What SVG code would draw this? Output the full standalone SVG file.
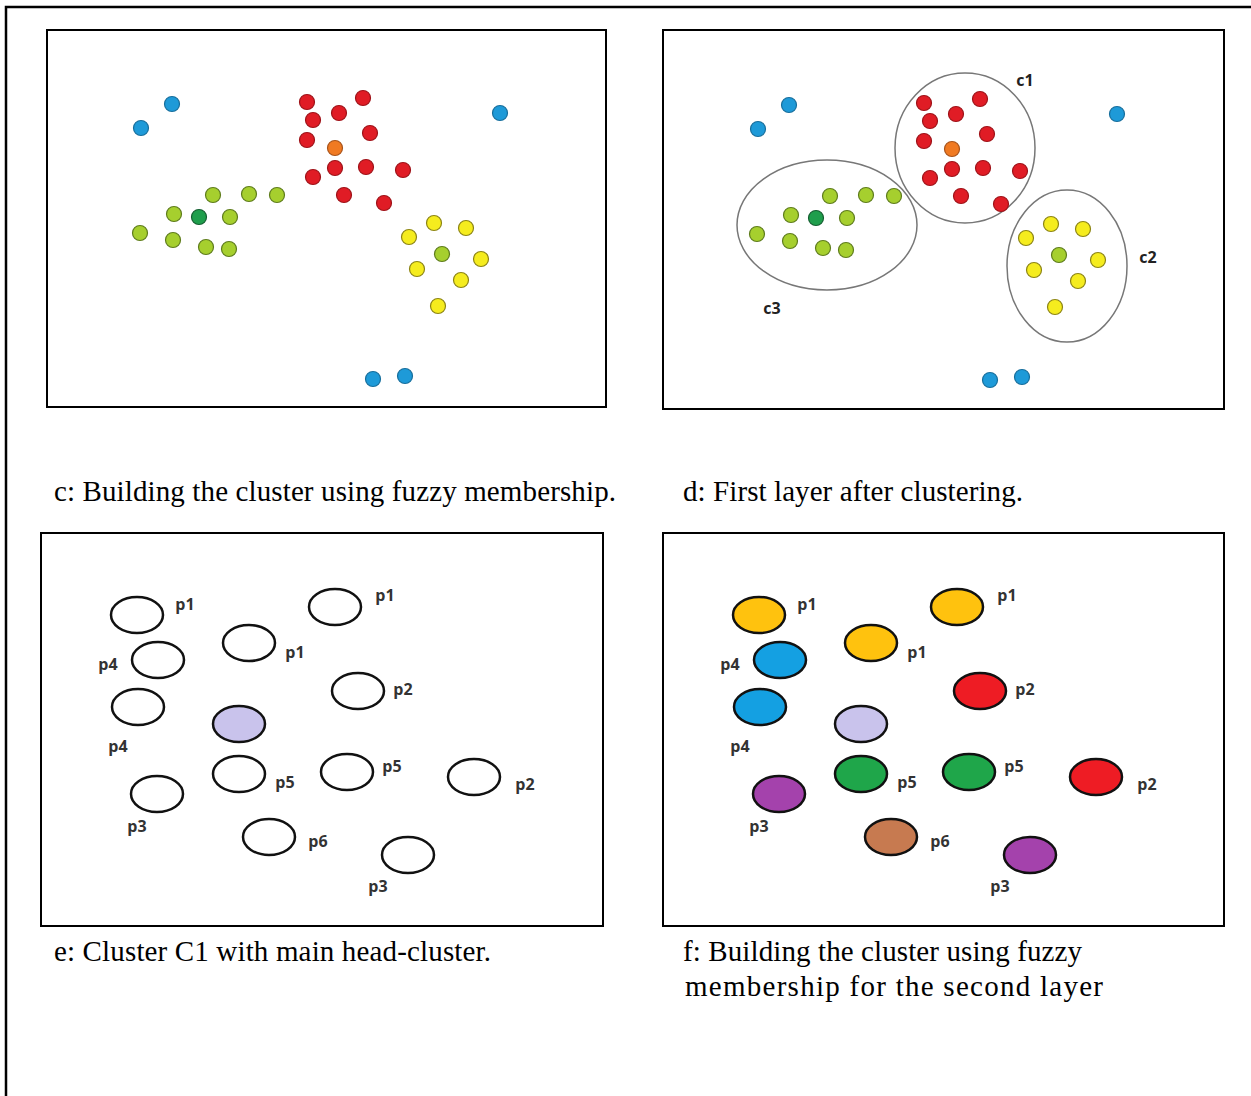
<svg xmlns="http://www.w3.org/2000/svg" width="1251" height="1096" viewBox="0 0 1251 1096">
  <style>
    .frame { fill: #fff; stroke: #000; stroke-width: 2; }
    .cap { font-family: "Liberation Serif", "Times New Roman", serif; font-size: 29px; fill: #000; }
    .lbl { font-family: "Open Sans", "Liberation Sans", sans-serif; font-weight: bold; font-size: 16px; fill: #333; text-anchor: middle; }
    .clbl { font-family: "Open Sans", "Liberation Sans", sans-serif; font-weight: bold; font-size: 16px; fill: #222; text-anchor: middle; }
    .blue { fill: #1E9AD8; stroke: #176E9C; stroke-width: 1.2; }
    .red { fill: #E01C25; stroke: #9E1218; stroke-width: 1.2; }
    .orange { fill: #F07A22; stroke: #A8531A; stroke-width: 1.2; }
    .lg { fill: #A6CF2E; stroke: #5E7C1C; stroke-width: 1.2; }
    .dg { fill: #1F9E4C; stroke: #145E30; stroke-width: 1.2; }
    .yel { fill: #F5EC1E; stroke: #8C8414; stroke-width: 1.2; }
    .ring { fill: none; stroke: #777; stroke-width: 1.5; }
    .p { stroke: #111; stroke-width: 2.5; }
    .p-empty { fill: #fff; }
    .p-yel { fill: #FFC20E; }
    .p-blu { fill: #14A0E2; }
    .p-lav { fill: #C9C3EC; }
    .p-grn { fill: #1FA64A; }
    .p-pur { fill: #A442AC; }
    .p-brn { fill: #C77A50; }
    .p-red { fill: #EE1C24; }
  </style>
  <defs>
    <!-- data points of the first layer, shared by panels c and d -->
    <g id="pts">
      <circle class="blue" cx="141" cy="128" r="7.5"/>
      <circle class="blue" cx="172" cy="104" r="7.5"/>
      <circle class="blue" cx="500" cy="113" r="7.5"/>
      <circle class="blue" cx="373" cy="379" r="7.5"/>
      <circle class="blue" cx="405" cy="376" r="7.5"/>
      <circle class="red" cx="307" cy="102" r="7.5"/>
      <circle class="red" cx="363" cy="98" r="7.5"/>
      <circle class="red" cx="313" cy="120" r="7.5"/>
      <circle class="red" cx="339" cy="113" r="7.5"/>
      <circle class="red" cx="370" cy="133" r="7.5"/>
      <circle class="red" cx="307" cy="140" r="7.5"/>
      <circle class="orange" cx="335" cy="148" r="7.5"/>
      <circle class="red" cx="335" cy="168" r="7.5"/>
      <circle class="red" cx="366" cy="167" r="7.5"/>
      <circle class="red" cx="403" cy="170" r="7.5"/>
      <circle class="red" cx="313" cy="177" r="7.5"/>
      <circle class="red" cx="344" cy="195" r="7.5"/>
      <circle class="red" cx="384" cy="203" r="7.5"/>
      <circle class="lg" cx="213" cy="195" r="7.5"/>
      <circle class="lg" cx="249" cy="194" r="7.5"/>
      <circle class="lg" cx="277" cy="195" r="7.5"/>
      <circle class="lg" cx="174" cy="214" r="7.5"/>
      <circle class="dg" cx="199" cy="217" r="7.5"/>
      <circle class="lg" cx="230" cy="217" r="7.5"/>
      <circle class="lg" cx="140" cy="233" r="7.5"/>
      <circle class="lg" cx="173" cy="240" r="7.5"/>
      <circle class="lg" cx="206" cy="247" r="7.5"/>
      <circle class="lg" cx="229" cy="249" r="7.5"/>
      <circle class="yel" cx="434" cy="223" r="7.5"/>
      <circle class="yel" cx="466" cy="228" r="7.5"/>
      <circle class="yel" cx="409" cy="237" r="7.5"/>
      <circle class="lg" cx="442" cy="254" r="7.5"/>
      <circle class="yel" cx="481" cy="259" r="7.5"/>
      <circle class="yel" cx="417" cy="269" r="7.5"/>
      <circle class="yel" cx="461" cy="280" r="7.5"/>
      <circle class="yel" cx="438" cy="306" r="7.5"/>
    </g>
  </defs>

  <!-- page frame -->
  <path d="M6,1096 V7 H1251" fill="none" stroke="#000" stroke-width="2.5"/>

  <!-- panel c -->
  <g id="panel-c">
    <rect class="frame" x="47" y="30" width="559" height="377"/>
    <use href="#pts"/>
  </g>

  <!-- panel d -->
  <g id="panel-d">
    <rect class="frame" x="663" y="30" width="561" height="379"/>
    <g id="cluster-c3">
      <ellipse class="ring" cx="827" cy="225" rx="90" ry="65"/>
      <text class="clbl" x="772" y="314">c3</text>
    </g>
    <g id="cluster-c1">
      <ellipse class="ring" cx="965" cy="148" rx="70" ry="75"/>
      <text class="clbl" x="1025" y="86">c1</text>
    </g>
    <g id="cluster-c2">
      <ellipse class="ring" cx="1067" cy="266" rx="60" ry="76"/>
      <text class="clbl" x="1148" y="263">c2</text>
    </g>
    <use href="#pts" transform="translate(617,1)"/>
  </g>

  <!-- panel e -->
  <g id="panel-e">
    <rect class="frame" x="41" y="533" width="562" height="393"/>
    <g class="p p-empty">
      <ellipse cx="137" cy="615" rx="26" ry="18"/>
      <ellipse cx="158" cy="660" rx="26" ry="18"/>
      <ellipse cx="138" cy="707" rx="26" ry="18"/>
      <ellipse cx="249" cy="643" rx="26" ry="18"/>
      <ellipse cx="239" cy="774" rx="26" ry="18"/>
      <ellipse cx="157" cy="794" rx="26" ry="18"/>
      <ellipse cx="269" cy="837" rx="26" ry="18"/>
      <ellipse cx="335" cy="607" rx="26" ry="18"/>
      <ellipse cx="358" cy="691" rx="26" ry="18"/>
      <ellipse cx="347" cy="772" rx="26" ry="18"/>
      <ellipse cx="474" cy="777" rx="26" ry="18"/>
      <ellipse cx="408" cy="855" rx="26" ry="18"/>
    </g>
    <ellipse class="p p-lav" cx="239" cy="724" rx="26" ry="18"/>
    <g class="lbl">
      <text x="185" y="610">p1</text>
      <text x="108" y="670">p4</text>
      <text x="118" y="752">p4</text>
      <text x="295" y="658">p1</text>
      <text x="285" y="788">p5</text>
      <text x="137" y="832">p3</text>
      <text x="318" y="847">p6</text>
      <text x="385" y="601">p1</text>
      <text x="403" y="695">p2</text>
      <text x="392" y="772">p5</text>
      <text x="525" y="790">p2</text>
      <text x="378" y="892">p3</text>
    </g>
  </g>

  <!-- panel f -->
  <g id="panel-f">
    <rect class="frame" x="663" y="533" width="561" height="393"/>
    <ellipse class="p p-yel" cx="759" cy="615" rx="26" ry="18"/>
    <ellipse class="p p-blu" cx="780" cy="660" rx="26" ry="18"/>
    <ellipse class="p p-blu" cx="760" cy="707" rx="26" ry="18"/>
    <ellipse class="p p-yel" cx="871" cy="643" rx="26" ry="18"/>
    <ellipse class="p p-lav" cx="861" cy="724" rx="26" ry="18"/>
    <ellipse class="p p-grn" cx="861" cy="774" rx="26" ry="18"/>
    <ellipse class="p p-pur" cx="779" cy="794" rx="26" ry="18"/>
    <ellipse class="p p-brn" cx="891" cy="837" rx="26" ry="18"/>
    <ellipse class="p p-yel" cx="957" cy="607" rx="26" ry="18"/>
    <ellipse class="p p-red" cx="980" cy="691" rx="26" ry="18"/>
    <ellipse class="p p-grn" cx="969" cy="772" rx="26" ry="18"/>
    <ellipse class="p p-red" cx="1096" cy="777" rx="26" ry="18"/>
    <ellipse class="p p-pur" cx="1030" cy="855" rx="26" ry="18"/>
    <g class="lbl">
      <text x="807" y="610">p1</text>
      <text x="730" y="670">p4</text>
      <text x="740" y="752">p4</text>
      <text x="917" y="658">p1</text>
      <text x="907" y="788">p5</text>
      <text x="759" y="832">p3</text>
      <text x="940" y="847">p6</text>
      <text x="1007" y="601">p1</text>
      <text x="1025" y="695">p2</text>
      <text x="1014" y="772">p5</text>
      <text x="1147" y="790">p2</text>
      <text x="1000" y="892">p3</text>
    </g>
  </g>

  <!-- captions -->
  <g id="captions">
    <text class="cap" x="54" y="501" textLength="562" lengthAdjust="spacing">c: Building the cluster using fuzzy membership.</text>
    <text class="cap" x="683" y="501" textLength="340" lengthAdjust="spacing">d: First layer after clustering.</text>
    <text class="cap" x="54" y="961" textLength="437" lengthAdjust="spacing">e: Cluster C1 with main head-cluster.</text>
    <text class="cap" x="683" y="961" textLength="399" lengthAdjust="spacing">f: Building the cluster using fuzzy</text>
    <text class="cap" x="685" y="996" textLength="418" lengthAdjust="spacing">membership for the second layer</text>
  </g>
</svg>
